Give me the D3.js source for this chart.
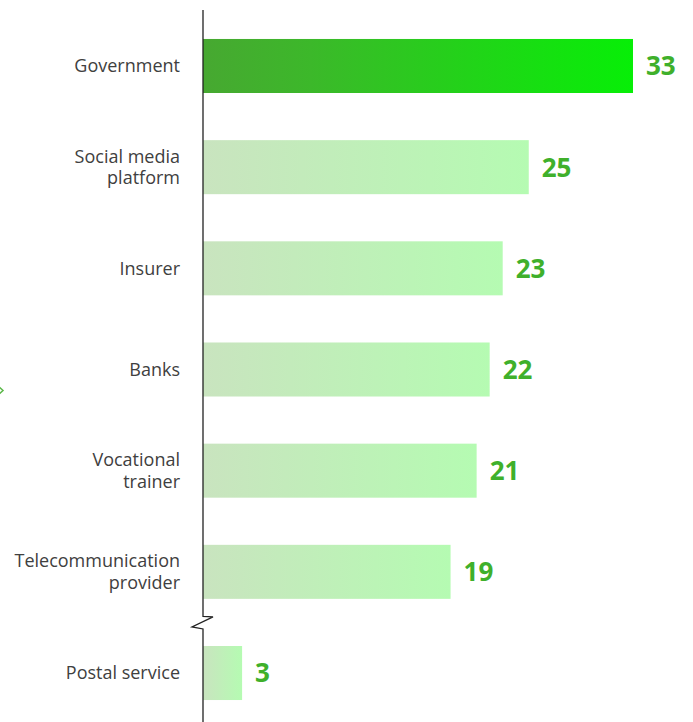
<!DOCTYPE html>
<html>
<head>
<meta charset="utf-8">
<script src="https://cdn.jsdelivr.net/npm/d3@7"></script>
<style>
  html, body { margin: 0; padding: 0; background: #fff; }
  svg { display: block; }
</style>
</head>
<body>
<div id="chart"></div>
<script>
// Data
const categories = [
  ["Government"],
  ["Social media", "platform"],
  ["Insurer"],
  ["Banks"],
  ["Vocational", "trainer"],
  ["Telecommunication", "provider"],
  ["Postal service"]
];
const values = [33, 25, 23, 22, 21, 19, 3];
const highlight = [true, false, false, false, false, false, false];

const W = 693, H = 722;
const svg = d3.select("#chart").append("svg")
  .attr("width", W).attr("height", H);

const defs = svg.append("defs");
const gHi = defs.append("linearGradient").attr("id", "gradHi")
  .attr("x1", "0%").attr("x2", "100%").attr("y1", "0%").attr("y2", "0%");
gHi.append("stop").attr("offset", "0%").attr("stop-color", "#47a831");
gHi.append("stop").attr("offset", "25%").attr("stop-color", "#3cb82a");
gHi.append("stop").attr("offset", "100%").attr("stop-color", "#07ef07");

const gLo = defs.append("linearGradient").attr("id", "gradLo")
  .attr("x1", "0%").attr("x2", "100%").attr("y1", "0%").attr("y2", "0%");
gLo.append("stop").attr("offset", "0%").attr("stop-color", "#c9e4bf");
gLo.append("stop").attr("offset", "100%").attr("stop-color", "#b5fbb2");

const x = d3.scaleLinear().domain([0, 33]).range([203, 633]);
const y = d3.scaleBand()
  .domain(d3.range(categories.length))
  .range([15.4, 723.6])
  .paddingInner(0.466)
  .paddingOuter(0.233);

// Bars
svg.append("g").selectAll("rect")
  .data(values)
  .join("rect")
  .attr("x", x(0))
  .attr("y", (d, i) => y(i))
  .attr("width", d => x(d) - x(0))
  .attr("height", y.bandwidth())
  .attr("fill", (d, i) => highlight[i] ? "url(#gradHi)" : "url(#gradLo)");

// Value labels
svg.append("g").selectAll("text")
  .data(values)
  .join("text")
  .attr("x", d => x(d) + 13)
  .attr("y", (d, i) => y(i) + y.bandwidth() / 2)
  .attr("dy", "0.36em")
  .attr("font-family", "'Open Sans', sans-serif")
  .attr("font-weight", 700)
  .attr("font-size", 26)
  .attr("fill", "#3fb02b")
  .text(d => d);

// Category labels (one text element per line)
const lh = 21.5;
const labelLines = [];
categories.forEach((lines, i) => {
  const cy = y(i) + y.bandwidth() / 2;
  lines.forEach((ln, k) => {
    labelLines.push({ text: ln, y: cy + (k - (lines.length - 1) / 2) * lh });
  });
});
svg.append("g").selectAll("text")
  .data(labelLines)
  .join("text")
  .attr("x", 180)
  .attr("y", d => d.y)
  .attr("dy", "0.35em")
  .attr("text-anchor", "end")
  .attr("font-family", "'Open Sans', sans-serif")
  .attr("font-size", 18)
  .attr("fill", "#404040")
  .text(d => d.text);

// Vertical axis with a break between the last two categories
const bx = x(0);
const by = (y(5) + y.bandwidth() + y(6)) / 2 - 1;
const axisPath = d3.path();
axisPath.moveTo(bx, 10);
axisPath.lineTo(bx, by - 5);
axisPath.lineTo(bx + 10, by - 4.5);
axisPath.lineTo(bx - 11, by + 5.5);
axisPath.lineTo(bx, by + 7.5);
axisPath.lineTo(bx, H);
svg.append("path")
  .attr("d", axisPath.toString())
  .attr("fill", "none")
  .attr("stroke", "#222")
  .attr("stroke-width", 1.3)
  .attr("stroke-linejoin", "miter");

// Small chevron at the left edge
svg.append("path")
  .attr("d", "M-2,386 L3,390.5 L-2,395")
  .attr("fill", "none")
  .attr("stroke", "#5cb84a")
  .attr("stroke-width", 1.5);
</script>
</body>
</html>
